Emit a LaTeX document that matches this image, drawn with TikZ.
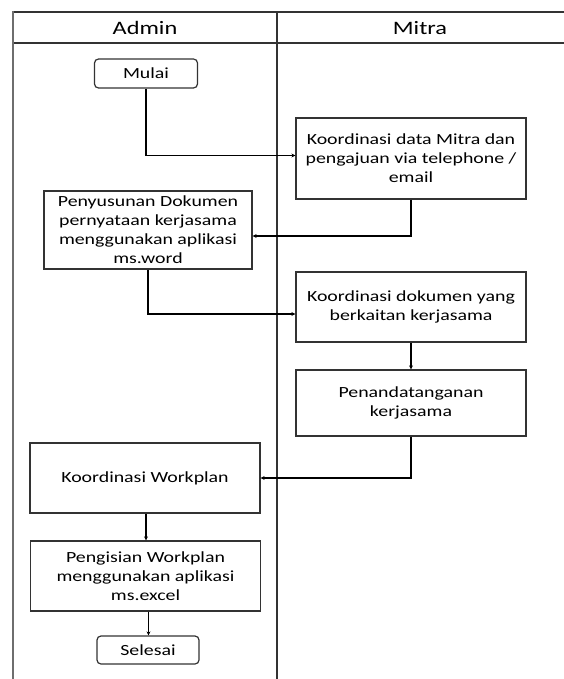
\documentclass[tikz,border=0pt]{standalone}
\usepackage{fontspec}
\setmainfont{Carlito}[FakeStretch=1.28]
\usetikzlibrary{arrows.meta,positioning,calc}
\definecolor{linegray}{HTML}{333333}
\definecolor{lanegray}{HTML}{6E6E6E}

\tikzset{
  proc/.style={draw=linegray,line width=1.2pt,align=center,inner sep=0pt,
    minimum width=230pt,minimum height=70pt,font=\fontsize{15.5}{19}\selectfont},
  term/.style={proc,rounded corners=4pt,minimum width=103pt,minimum height=29pt},
  lanehead/.style={font=\fontsize{19}{22}\selectfont},
  flow/.style={->,draw=black,line width=1.1pt}
}

\begin{document}
\begin{tikzpicture}[>={Stealth[length=4pt,width=4pt]},x=1pt,y=-1pt]
  \useasboundingbox (0,0) rectangle (564,679);

  % Lanes
  \draw[linegray,line width=1.3pt] (13,12) -- (564,12);
  \draw[linegray,line width=1.3pt] (13,43) -- (564,43);
  \draw[linegray,line width=1.3pt] (277,12) -- (277,679);
  \draw[lanegray,line width=2.6pt] (13,11) -- (13,679);
  \node[lanehead] (admin) at (145,28) {Admin};
  \node[lanehead] (mitra) at (420,28) {Mitra};

  % Steps
  \node[term] (mulai) at (146,73.5) {Mulai};
  \node[proc,minimum height=81pt] (kdm) at (411,158.5)
    {Koordinasi data Mitra dan\\pengajuan via telephone /\\email};
  \node[proc,minimum width=208pt,minimum height=78pt] (pd) at (148,230)
    {Penyusunan Dokumen\\pernyataan kerjasama\\menggunakan aplikasi\\ms.word};
  \node[proc] (kd) at (411,307) {Koordinasi dokumen yang\\berkaitan kerjasama};
  \node[proc,minimum height=66pt] (pt) at (411,403) {Penandatanganan\\kerjasama};
  \node[proc] (kw) at (145,478) {Koordinasi Workplan};
  \node[proc] (pw) at (145.5,576) {Pengisian Workplan\\menggunakan aplikasi\\ms.excel};
  \node[term,minimum width=102pt,minimum height=28pt] (selesai) at (148,650) {Selesai};

  % Flow
  \draw[flow] (mulai.south) |- ([yshift=3pt]kdm.west);
  \draw[flow] (kdm.south) |- ([yshift=-6pt]pd.east);
  \draw[flow] (pd.south) |- ([yshift=-7pt]kd.west);
  \draw[flow] (kd.south) -- (pt.north);
  \draw[flow] (pt.south) |- (kw.east);
  \draw[flow] ([xshift=1pt]kw.south) -- ([xshift=1pt]kw.south |- pw.north);
  \draw[flow] ([xshift=3pt]pw.south) -- ([xshift=3pt]pw.south |- selesai.north);
\end{tikzpicture}
\end{document}
